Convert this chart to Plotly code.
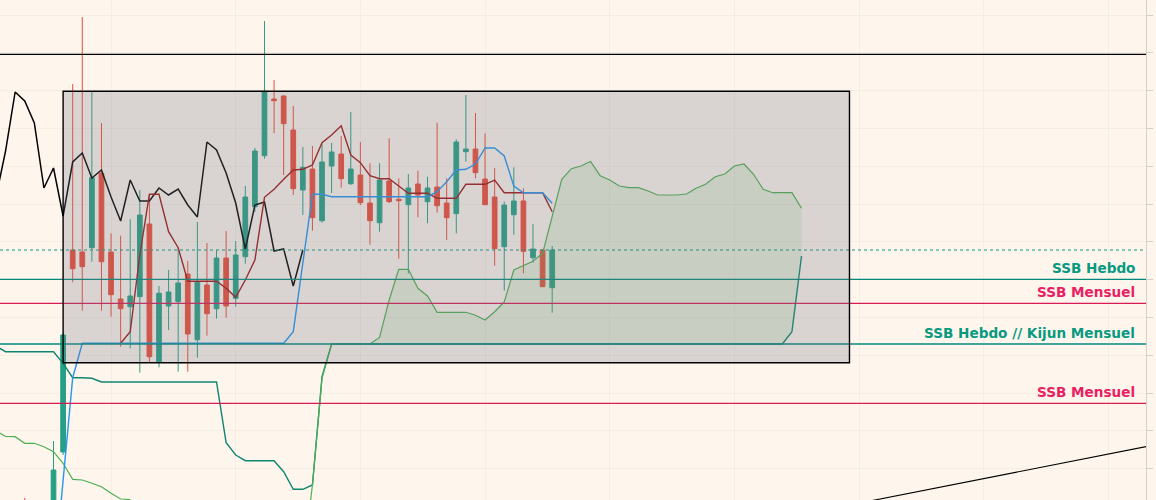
import plotly.graph_objects as go

# bar index (x) and OHLC
bar_idx = [-3] + list(range(53))
open_ = [9.5, 8.0, 14.8, 35.0, 34.8, 35.23, 42.67, 34.8, 30.1, 29.33, 30.33, 37.6, 23.83, 29.4, 29.83,
         32.6, 26.03, 31.5, 29.13, 34.2, 30.17, 34.33, 39.33, 44.43, 50.1, 50.4, 47.0, 41.0, 43.1, 37.93,
         43.4, 44.6, 41.63, 42.5, 39.7, 37.73, 41.9, 40.07, 39.53, 41.6, 39.83, 41.3, 39.7, 38.63, 44.83,
         45.1, 42.1, 40.3, 35.33, 38.53, 39.9, 34.23, 35.0, 31.23]
high = [10.2, 15.9, 26.7, 51.6, 58.3, 50.9, 47.7, 36.67, 36.43, 38.1, 41.0, 40.5, 31.4, 33.0, 35.13,
        33.9, 37.8, 35.7, 35.0, 36.9, 35.9, 41.4, 45.2, 57.9, 52.0, 50.5, 49.4, 45.3, 45.4, 45.6,
        45.7, 46.4, 48.8, 45.8, 43.67, 43.67, 46.17, 42.17, 42.6, 42.93, 42.33, 47.73, 42.17, 46.07, 50.5,
        48.7, 46.67, 43.2, 39.83, 43.27, 41.17, 37.6, 35.1, 35.4]
low = [4.0, 7.0, 14.5, 31.77, 28.93, 33.83, 28.93, 28.33, 25.33, 25.17, 22.73, 23.73, 23.27, 27.0, 22.83,
       22.83, 24.23, 26.43, 28.13, 28.23, 29.33, 33.63, 38.8, 44.13, 46.67, 42.5, 40.5, 38.5, 36.93, 37.73,
       40.7, 41.23, 41.5, 39.5, 35.53, 36.83, 39.7, 34.13, 32.67, 38.27, 37.67, 38.73, 36.0, 36.67, 43.83,
       42.17, 39.5, 33.43, 30.93, 36.53, 32.67, 33.73, 31.3, 28.73]
close = [6.0, 13.0, 26.5, 33.13, 33.33, 42.23, 33.83, 30.53, 29.13, 30.4, 38.5, 24.33, 30.67, 30.8, 31.7,
         26.6, 31.83, 28.63, 34.2, 29.4, 34.5, 40.3, 44.9, 50.87, 49.93, 47.63, 41.13, 43.27, 38.23, 43.8,
         44.8, 42.13, 43.1, 39.73, 37.93, 42.0, 39.83, 39.93, 41.2, 40.5, 41.2, 39.43, 38.23, 45.8, 45.1,
         42.73, 39.53, 35.13, 39.5, 39.9, 34.87, 35.1, 31.33, 35.0]

# ichimoku lines
chikou_idx = list(range(-6, 27))
chikou = [40.3, 44.9, 50.8, 49.9, 47.7, 41.2, 43.2, 38.4, 43.8, 44.7, 42.2, 43.0, 40.3, 37.9, 42.0,
          39.9, 39.9, 41.2, 40.5, 41.1, 39.5, 38.3, 45.8, 45.0, 42.7, 39.7, 35.1, 39.5, 39.8, 34.9,
          35.1, 31.4, 35.0]
tenkan_idx = list(range(7, 53))
tenkan = [25.67, 26.83, 34.5, 40.57, 40.57, 36.83, 35.23, 31.87, 31.87, 31.87, 31.87, 31.17, 30.27,
          32.0, 34.0, 40.27, 41.07, 42.07, 43.0, 43.07, 43.5, 45.73, 46.5, 47.43, 44.5, 43.73, 42.43,
          42.13, 42.13, 41.4, 40.67, 40.67, 40.67, 40.17, 40.17, 40.17, 41.57, 41.57, 41.57, 42.0,
          40.73, 40.73, 40.73, 40.73, 40.73, 38.83]
kijun_idx = list(range(53))
kijun = ([1.7, 12.0, 22.23] + [25.67] * 22 + [26.83, 33.83, 40.57, 40.57] + [40.33] * 11
         + [40.83, 41.83, 43.0, 43.07, 43.6, 45.2, 45.2, 44.4, 41.4, 40.73, 40.73, 40.73, 39.67])
span_idx = list(range(-6, 79))
ssb = ([25.4, 24.83, 24.83, 24.83, 24.83, 24.83, 24.83, 23.67, 22.23, 22.23, 22.17] + [21.8] * 13
       + [15.73, 14.5, 13.93, 13.93, 13.93, 13.93, 12.83, 11.07, 11.07, 11.5, 22.33] + [25.6] * 48
       + [26.83, 34.4])
ssa = ([16.9, 16.35, 16.33, 15.67, 15.67, 15.33, 14.83, 13.67, 12.07, 12.0, 11.67, 11.33, 10.67, 10.1, 10.05]
       + [None] * 17
       + [3.5, 11.5, 22.2, 25.6, 25.6, 25.6, 25.6, 25.6, 26.25, 30.0, 33.07, 33.07, 31.17, 30.4,
          28.77, 28.77, 28.77, 28.77, 28.47, 28.0, 28.83, 29.8, 33.0, 33.4, 33.87, 34.67, 38.3, 42.07,
          43.13, 43.4, 43.85, 42.43, 42.0, 41.4, 41.23, 41.23, 40.9, 40.5, 40.5, 40.5, 40.6, 41.17,
          41.57, 42.33, 42.6, 43.4, 43.6, 42.57, 41.07, 40.73, 40.73, 40.73, 39.17])

# drawn levels
top_level = 54.57
level_prices = [32.07, 29.67, 25.6, 19.67]
level_colors = ["#00897b", "#d81b55", "#00897b", "#d81b55"]
label_colors = ["#089981", "#e91e63", "#089981", "#e91e63"]
level_labels = ["SSB Hebdo", "SSB Mensuel", "SSB Hebdo // Kijun Mensuel", "SSB Mensuel"]
trend_idx = [80, 114]
trend = [8.93, 15.35]
box_idx = [1, 83]
box_price = [23.73, 50.87]

fig = go.Figure()

# cloud fill (from bar 27 onwards)
c0 = span_idx.index(27)
fig.add_trace(go.Scatter(x=span_idx[c0:], y=ssb[c0:], mode="lines", line=dict(width=0),
                         hoverinfo="skip", showlegend=False))
fig.add_trace(go.Scatter(x=span_idx[c0:], y=ssa[c0:], mode="lines", line=dict(width=0),
                         fill="tonexty", fillcolor="rgba(76,175,80,0.13)", hoverinfo="skip",
                         showlegend=False))

fig.add_trace(go.Scatter(x=span_idx, y=ssb, mode="lines", line=dict(color="#0f8571", width=1.4),
                         showlegend=False))
fig.add_trace(go.Scatter(x=span_idx, y=ssa, mode="lines", line=dict(color="#4caf50", width=1.2),
                         connectgaps=False, showlegend=False))

fig.add_trace(go.Candlestick(x=bar_idx, open=open_, high=high, low=low, close=close,
                             increasing=dict(line=dict(color="#26a085", width=1), fillcolor="#26a085"),
                             decreasing=dict(line=dict(color="#ef4b38", width=1), fillcolor="#ef4b38"),
                             whiskerwidth=0, showlegend=False))

fig.add_trace(go.Scatter(x=chikou_idx, y=chikou, mode="lines", line=dict(color="#000000", width=1.5),
                         showlegend=False))
fig.add_trace(go.Scatter(x=tenkan_idx, y=tenkan, mode="lines", line=dict(color="#a01515", width=1.4),
                         showlegend=False))
fig.add_trace(go.Scatter(x=kijun_idx, y=kijun, mode="lines", line=dict(color="#2196f3", width=1.4),
                         showlegend=False))
fig.add_trace(go.Scatter(x=trend_idx, y=trend, mode="lines", line=dict(color="#000000", width=1.1),
                         showlegend=False))

# horizontal levels
fig.add_hline(y=top_level, line=dict(color="#000000", width=1.2))
fig.add_hline(y=close[-1], line=dict(color="#089981", width=1.2, dash="dot"))
for p, c, lc, t in zip(level_prices, level_colors, label_colors, level_labels):
    fig.add_hline(y=p, line=dict(color=c, width=1.3))
    fig.add_annotation(x=112.95, y=p, xref="x", yref="y", text="<b>" + t + "</b>", showarrow=False,
                       xanchor="right", yanchor="bottom", yshift=1,
                       font=dict(family="DejaVu Sans", size=13.6, color=lc))

# grey box over the range
fig.add_shape(type="rect", xref="x", yref="y", x0=box_idx[0], x1=box_idx[1], y0=box_price[0],
              y1=box_price[1], fillcolor="rgba(120,123,134,0.27)", line=dict(width=0), layer="above")
fig.add_shape(type="rect", xref="x", yref="y", x0=box_idx[0], x1=box_idx[1], y0=box_price[0],
              y1=box_price[1], fillcolor="rgba(0,0,0,0)", line=dict(color="#000000", width=1.4),
              layer="above")

fig.update_layout(
    width=1156, height=500,
    margin=dict(l=0, r=10, t=0, b=0),
    paper_bgcolor="#fef6ed", plot_bgcolor="#fef6ed",
    showlegend=False,
)

fig.update_xaxes(range=[-5.58, 113.92], rangeslider_visible=False, showticklabels=False,
                 showgrid=True, gridcolor="rgba(150,135,120,0.08)", tick0=6, dtick=13,
                 zeroline=False, showline=False)
fig.update_yaxes(range=[10, 60], side="right", showticklabels=False, showgrid=True,
                 gridcolor="rgba(150,135,120,0.08)", tick0=58.5, dtick=3.78, ticks="outside",
                 ticklen=6, tickcolor="#d8d0c6", showline=True, linecolor="#d8d0c6",
                 zeroline=False)

# page margin off so the chart sits at the window corner
fig.write_html("out.html", config={"displayModeBar": False},
               post_script="document.body.style.margin='0';")
